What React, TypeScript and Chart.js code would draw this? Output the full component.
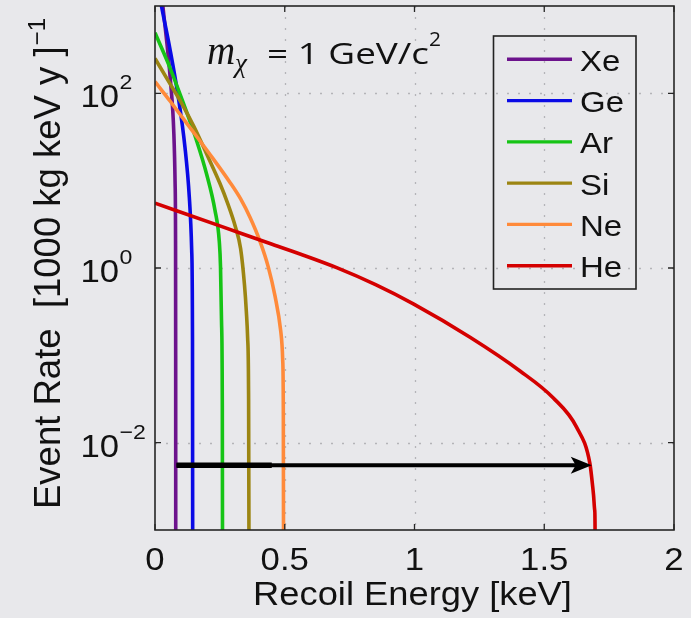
import React, { useEffect, useRef } from "react";
import { Chart, registerables } from "chart.js";

Chart.register(...registerables);

// ---- data ----
const seriesNames = ["Xe", "Ge", "Ar", "Si", "Ne", "He"];
const seriesColors = ["#6c128c", "#0a0ae6", "#16c416", "#9c8512", "#ff8a3a", "#d40000"];

const energyXe = [0, 0.0308, 0.0597, 0.0727, 0.0775, 0.0792, 0.0797, 0.0799, 0.0801];
const rateXe = [7500, 970, 138, 34.3, 9.2, 2.05, 0.1, 0.001, 1e-6];

const energyGe = [0, 0.0258, 0.0578, 0.0898, 0.1156, 0.1322, 0.1414, 0.1445, 0.1452, 0.1455];
const rateGe = [2500, 968, 320, 90, 24, 6.5, 1.6, 0.15, 0.001, 1e-6];

const energyAr = [0, 0.0578, 0.109, 0.1607, 0.199, 0.2312, 0.2478, 0.2524, 0.2563, 0.2593, 0.2601, 0.2605];
const rateAr = [493, 196, 77.6, 28.5, 11.86, 4.57, 2.0, 1.047, 0.251, 0.0316, 0.001, 1e-6];

const energySi = [0, 0.05, 0.1, 0.15, 0.2, 0.25, 0.28, 0.31, 0.33, 0.345, 0.352, 0.357, 0.3605, 0.362, 0.3627];
const rateSi = [251, 141, 79.4, 41.7, 19.95, 9.33, 5.5, 2.95, 1.66, 0.631, 0.316, 0.158, 0.0398, 0.001, 1e-6];

const energyNe = [0, 0.0578, 0.135, 0.212, 0.289, 0.33, 0.366, 0.405, 0.4366, 0.4624, 0.4844, 0.4921, 0.4944, 0.4952, 0.4956];
const rateNe = [136, 81.7, 40.5, 19.95, 9.55, 6.17, 3.8, 2.0, 1.023, 0.479, 0.191, 0.0891, 0.0251, 0.001, 1e-6];

const energyHe = [0, 0.25, 0.443, 0.5588, 0.7, 0.85, 0.9955, 1.214, 1.4066, 1.535, 1.625, 1.676, 1.684, 1.69, 1.6945, 1.6958, 1.6962];
const rateHe = [5.53, 3.035, 1.905, 1.445, 1.008, 0.644, 0.388, 0.161, 0.0662, 0.0325, 0.01497, 0.00575, 0.00371, 0.0025, 0.00168, 0.001, 1e-6];

const arrowStartE = 0.083;
const arrowThickEndE = 0.45;
const arrowTipE = 1.683;
const arrowRate = 0.0055;

const xTickValues = [0, 0.5, 1, 1.5, 2];
const xTickLabels = ["0", "0.5", "1", "1.5", "2"];
const xGridValues = [0.5, 1, 1.5];
const yTickValues = [1e-2, 1, 1e2];
const yTickExponents = ["\u22122", "0", "2"];

const xTitle = "Recoil Energy [keV]";
const yTitleMain = "Event Rate  [1000 kg keV y ]";
const yTitleSup = "\u22121";
const annoMass = "m";
const annoSub = "\u03c7";
const annoRest = "= 1 GeV/c";
const annoSup = "2";

const energies = [energyXe, energyGe, energyAr, energySi, energyNe, energyHe];
const rates = [rateXe, rateGe, rateAr, rateSi, rateNe, rateHe];

const SANS = "'Liberation Sans', Arial, Helvetica, sans-serif";

function drawScaledText(ctx: CanvasRenderingContext2D, text: string, x: number, y: number, font: string, align: "left" | "center" | "right", sx: number) {
  ctx.save();
  ctx.font = font;
  const w = ctx.measureText(text).width * sx;
  let left = x;
  if (align === "center") left = x - w / 2;
  else if (align === "right") left = x - w;
  ctx.translate(left, y);
  ctx.scale(sx, 1);
  ctx.textAlign = "left";
  ctx.textBaseline = "alphabetic";
  ctx.fillText(text, 0, 0);
  ctx.restore();
  return w;
}

const decorPlugin = {
  id: "decor",
  beforeDraw(chart: any) {
    const ctx = chart.ctx;
    ctx.save();
    ctx.fillStyle = "#e8e8eb";
    ctx.fillRect(0, 0, chart.width, chart.height);
    ctx.restore();
  },
  beforeDatasetsDraw(chart: any) {
    const ctx = chart.ctx;
    const { left, right, top, bottom } = chart.chartArea;
    const xs = chart.scales.x;
    const ys = chart.scales.y;
    ctx.save();
    ctx.strokeStyle = "#b4b4b8";
    ctx.lineWidth = 1.3;
    ctx.setLineDash([2, 9]);
    xGridValues.forEach((v) => {
      const px = Math.round(xs.getPixelForValue(v)) + 0.5;
      ctx.beginPath();
      ctx.moveTo(px, top);
      ctx.lineTo(px, bottom);
      ctx.stroke();
    });
    yTickValues.forEach((v) => {
      const py = Math.round(ys.getPixelForValue(v)) + 0.5;
      ctx.beginPath();
      ctx.moveTo(left, py);
      ctx.lineTo(right, py);
      ctx.stroke();
    });
    ctx.restore();
  },
  afterDatasetsDraw(chart: any) {
    const ctx = chart.ctx;
    const { left, right, top, bottom } = chart.chartArea;
    const xs = chart.scales.x;
    const ys = chart.scales.y;
    // arrow head
    const tipX = xs.getPixelForValue(arrowTipE);
    const ay = ys.getPixelForValue(arrowRate);
    ctx.save();
    ctx.fillStyle = "#000";
    ctx.beginPath();
    ctx.moveTo(tipX, ay);
    ctx.lineTo(tipX - 21, ay - 8.5);
    ctx.lineTo(tipX - 16, ay);
    ctx.lineTo(tipX - 21, ay + 8.5);
    ctx.closePath();
    ctx.fill();
    ctx.restore();

    // frame
    ctx.save();
    ctx.strokeStyle = "#262626";
    ctx.lineWidth = 1.6;
    ctx.strokeRect(left, top, right - left, bottom - top);
    const tl = 6;
    ctx.lineWidth = 1.3;
    xTickValues.forEach((v) => {
      const px = xs.getPixelForValue(v);
      ctx.beginPath();
      ctx.moveTo(px, bottom);
      ctx.lineTo(px, bottom - tl);
      ctx.moveTo(px, top);
      ctx.lineTo(px, top + tl);
      ctx.stroke();
    });
    yTickValues.forEach((v) => {
      const py = ys.getPixelForValue(v);
      ctx.beginPath();
      ctx.moveTo(left, py);
      ctx.lineTo(left + tl, py);
      ctx.moveTo(right, py);
      ctx.lineTo(right - tl, py);
      ctx.stroke();
    });
    ctx.restore();

    // tick labels
    ctx.save();
    ctx.fillStyle = "#111";
    xTickValues.forEach((v, i) => {
      const px = xs.getPixelForValue(v);
      drawScaledText(ctx, xTickLabels[i], px, bottom + 40, `31px ${SANS}`, "center", 1.12);
    });
    yTickValues.forEach((v, i) => {
      const py = ys.getPixelForValue(v);
      drawScaledText(ctx, "10", 119, py + 14, `31px ${SANS}`, "right", 1.12);
      drawScaledText(ctx, yTickExponents[i], 119.5, py - 4, `21px ${SANS}`, "left", 1.1);
    });

    // x title
    drawScaledText(ctx, xTitle, (left + right) / 2 - 2, bottom + 75, `33px ${SANS}`, "center", 1.1);

    // y title (rotated)
    ctx.save();
    ctx.translate(60, (top + bottom) / 2 - 4);
    ctx.rotate(-Math.PI / 2);
    ctx.font = `36.5px ${SANS}`;
    const w1 = ctx.measureText(yTitleMain).width;
    ctx.font = `24px ${SANS}`;
    const w2 = ctx.measureText(yTitleSup).width;
    const start = -(w1 + w2) / 2;
    ctx.textAlign = "left";
    ctx.textBaseline = "alphabetic";
    ctx.font = `36.5px ${SANS}`;
    ctx.fillText(yTitleMain, start, 0);
    ctx.font = `24px ${SANS}`;
    ctx.fillText(yTitleSup, start + w1 + 1, -15);
    ctx.restore();

    // annotation m_chi = 1 GeV/c^2
    ctx.save();
    ctx.fillStyle = "#111";
    drawScaledText(ctx, annoMass, 207, 63.5, `italic 39px 'Liberation Serif', 'Times New Roman', serif`, "left", 1.0);
    drawScaledText(ctx, annoSub, 235, 72, `italic 27px 'Liberation Serif', 'Times New Roman', serif`, "left", 1.0);
    ctx.font = `29px 'Open Sans', sans-serif`;
    const restW = ctx.measureText(annoRest).width;
    const sx = 162 / restW;
    drawScaledText(ctx, annoRest, 267, 63.5, `29px 'Open Sans', sans-serif`, "left", sx);
    drawScaledText(ctx, annoSup, 429, 45.5, `20px 'Open Sans', sans-serif`, "left", 1.05);
    ctx.restore();

    // legend
    ctx.save();
    ctx.strokeStyle = "#222";
    ctx.lineWidth = 1.6;
    ctx.strokeRect(493.5, 36, 142.5, 253);
    seriesNames.forEach((name, i) => {
      const ly = 59.3 + i * 41.28;
      ctx.strokeStyle = seriesColors[i];
      ctx.lineWidth = 3.4;
      ctx.beginPath();
      ctx.moveTo(507, ly);
      ctx.lineTo(572, ly);
      ctx.stroke();
      ctx.fillStyle = "#111";
      drawScaledText(ctx, name, 580, ly + 11.5, `30px ${SANS}`, "left", 1.1);
    });
    ctx.restore();
    ctx.restore();
  },
};

export default function App() {
  const canvasRef = useRef<HTMLCanvasElement | null>(null);

  useEffect(() => {
    if (!canvasRef.current) return;
    const datasets: any[] = seriesNames.map((name, i) => ({
      label: name,
      data: energies[i].map((e, j) => ({ x: e, y: rates[i][j] })),
      borderColor: seriesColors[i],
      backgroundColor: seriesColors[i],
      borderWidth: 3.6,
      pointRadius: 0,
      cubicInterpolationMode: "monotone",
      fill: false,
      order: seriesNames.length - 1 - i,
    }));
    datasets.push({
      label: "arrow-thick",
      data: [
        { x: arrowStartE, y: arrowRate },
        { x: arrowThickEndE, y: arrowRate },
      ],
      borderColor: "#000",
      borderWidth: 5.5,
      pointRadius: 0,
      tension: 0,
      order: -2,
    });
    datasets.push({
      label: "arrow",
      data: [
        { x: arrowStartE, y: arrowRate },
        { x: arrowTipE - 0.06, y: arrowRate },
      ],
      borderColor: "#000",
      borderWidth: 4,
      pointRadius: 0,
      tension: 0,
      order: -1,
    });

    const chart = new Chart(canvasRef.current, {
      type: "line",
      data: { datasets },
      options: {
        responsive: false,
        devicePixelRatio: 1,
        animation: false,
        parsing: true,
        layout: { padding: { left: 155, top: 6, right: 17, bottom: 88 } },
        scales: {
          x: { type: "linear", display: false, min: 0, max: 2 },
          y: { type: "logarithmic", display: false, min: 1e-3, max: 1e3 },
        },
        plugins: { legend: { display: false }, tooltip: { enabled: false } },
      },
      plugins: [decorPlugin],
    } as any);
    return () => chart.destroy();
  }, []);

  return (
    <div style={{ position: "absolute", left: 0, top: 0, width: 691, height: 618, background: "#e8e8eb" }}>
      <canvas ref={canvasRef} width={691} height={618} style={{ display: "block" }} />
    </div>
  );
}
